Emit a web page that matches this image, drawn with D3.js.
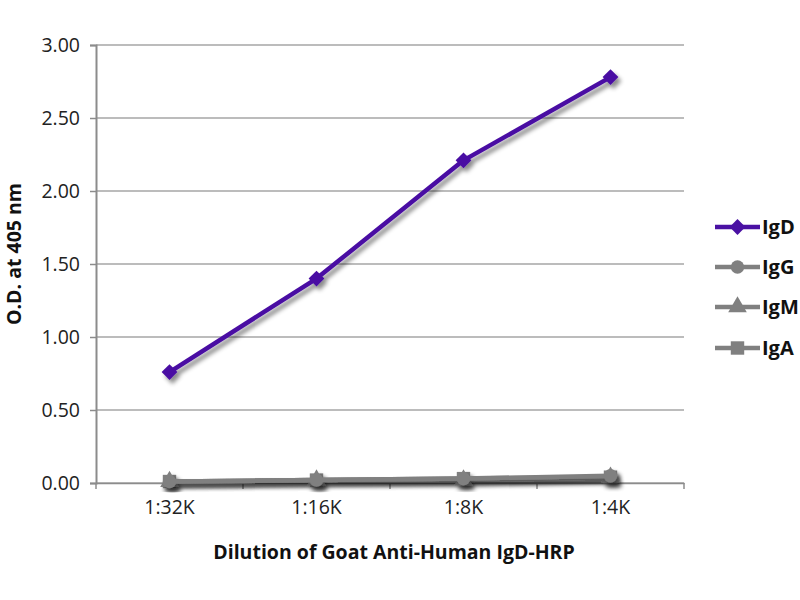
<!DOCTYPE html>
<html>
<head>
<meta charset="utf-8">
<script src="https://cdn.jsdelivr.net/npm/d3@7"></script>
<style>
  body { margin: 0; background: #fff; }
  svg { display: block; font-family: "Open Sans", sans-serif; }
</style>
</head>
<body>
<svg id="chart" width="800" height="600"></svg>
<script>
// data
var categories = ["1:32K", "1:16K", "1:8K", "1:4K"];
var seriesNames = ["IgD", "IgG", "IgM", "IgA"];
var igD = [0.76, 1.40, 2.21, 2.78];
var igG = [0.01, 0.02, 0.03, 0.05];
var igM = [0.01, 0.02, 0.02, 0.04];
var igA = [0.01, 0.02, 0.03, 0.04];
var yTicks = [0, 0.5, 1, 1.5, 2, 2.5, 3];

var colors = { IgD: "#4a11a3", IgG: "#808080", IgM: "#808080", IgA: "#808080" };
var symbols = { IgD: d3.symbolSquare, IgG: d3.symbolCircle, IgM: d3.symbolTriangle, IgA: d3.symbolSquare };
var sizes = { IgD: 125, IgG: 140, IgM: 150, IgA: 180 };

var series = [
  { name: "IgD", values: igD },
  { name: "IgG", values: igG },
  { name: "IgM", values: igM },
  { name: "IgA", values: igA }
];

var svg = d3.select("#chart");
var margin = { left: 96, right: 116, top: 45, bottom: 117 };
var W = 800 - margin.left - margin.right;
var H = 600 - margin.top - margin.bottom;

// drop shadow like the office chart
var defs = svg.append("defs");
var f = defs.append("filter").attr("id", "shadow")
  .attr("x", "-20%").attr("y", "-20%").attr("width", "140%").attr("height", "140%");
f.append("feDropShadow").attr("dx", 3).attr("dy", 4)
  .attr("stdDeviation", 2).attr("flood-color", "#000").attr("flood-opacity", 0.45);

var g = svg.append("g").attr("transform", "translate(" + margin.left + "," + margin.top + ")");

var x = d3.scaleBand().domain(categories).range([0, W]);
var y = d3.scaleLinear().domain([0, 3]).range([H, 0]);

// marker shape: diamond is a square turned 45deg
function markRot(name){ return name === "IgD" ? " rotate(45)" : ""; }

// gridlines
g.append("g").selectAll("line").data(yTicks).enter().append("line")
  .attr("x1", 0).attr("x2", W)
  .attr("y1", function(d){ return y(d); }).attr("y2", function(d){ return y(d); })
  .attr("stroke", "#a6a6a6").attr("stroke-width", 1.5);

// y axis
var yAxis = g.append("g")
  .call(d3.axisLeft(y).tickValues(yTicks).tickFormat(d3.format(".2f")).tickSize(6).tickPadding(10));
yAxis.select(".domain").attr("stroke", "#8c8c8c").attr("stroke-width", 2);
yAxis.selectAll(".tick line").attr("stroke", "#8c8c8c").attr("stroke-width", 1.5);
yAxis.selectAll(".tick text").attr("font-size", 19.5).attr("fill", "#222")
  .attr("font-family", "'Open Sans', sans-serif");

// x axis: ticks at band edges
var xAxis = g.append("g").attr("transform", "translate(0," + H + ")")
  .call(d3.axisBottom(x).tickSize(0).tickPadding(17));
xAxis.select(".domain").attr("stroke", "#8c8c8c").attr("stroke-width", 1.5);
xAxis.selectAll(".tick text").attr("font-size", 19.5).attr("fill", "#222")
  .attr("font-family", "'Open Sans', sans-serif");
var edges = categories.map(function(c){ return x(c); }).concat([W]);
xAxis.selectAll(".edge").data(edges).enter().append("line")
  .attr("class", "edge")
  .attr("x1", function(d){ return d; }).attr("x2", function(d){ return d; })
  .attr("y1", 0).attr("y2", 6)
  .attr("stroke", "#8c8c8c").attr("stroke-width", 1.5);

// series lines + markers (draw grays first, IgD on top)
var line = d3.line()
  .x(function(d, i){ return x(categories[i]) + x.bandwidth() / 2; })
  .y(function(d){ return y(d); });

var drawOrder = series.slice(1).reverse().concat([series[0]]);
var sg = g.selectAll(".series").data(drawOrder).enter().append("g")
  .attr("class", "series")
  .attr("filter", "url(#shadow)");

sg.append("path")
  .attr("d", function(d){ return line(d.values); })
  .attr("fill", "none")
  .attr("stroke", function(d){ return colors[d.name]; })
  .attr("stroke-width", 4.5)
  .attr("stroke-linejoin", "round");

sg.each(function(s){
  d3.select(this).selectAll("path.mark").data(s.values).enter().append("path")
    .attr("class", "mark")
    .attr("transform", function(d, i){
      return "translate(" + (x(categories[i]) + x.bandwidth() / 2) + "," + y(d) + ")" + markRot(s.name);
    })
    .attr("d", d3.symbol().type(symbols[s.name]).size(sizes[s.name]))
    .attr("fill", colors[s.name]);
});

// legend
var legendY = [227, 267, 307, 348];
var lg = svg.append("g").selectAll("g").data(seriesNames).enter().append("g")
  .attr("transform", function(d, i){ return "translate(715," + legendY[i] + ")"; });
lg.append("line").attr("x1", 0).attr("x2", 45).attr("y1", 0).attr("y2", 0)
  .attr("stroke", function(d){ return colors[d]; }).attr("stroke-width", 4.5);
lg.append("path").attr("transform", function(d){ return "translate(22.5,0)" + markRot(d); })
  .attr("d", function(d){ return d3.symbol().type(symbols[d]).size(sizes[d])(); })
  .attr("fill", function(d){ return colors[d]; });
lg.append("text").attr("x", 47).attr("y", 0).attr("dy", "0.36em")
  .attr("font-size", 20).attr("font-weight", "bold").attr("fill", "#111")
  .text(function(d){ return d; });

// axis titles
svg.append("text")
  .attr("x", margin.left + W / 2 + 4).attr("y", 559)
  .attr("text-anchor", "middle").attr("font-size", 19.5).attr("font-weight", "bold").attr("fill", "#111")
  .text("Dilution of Goat Anti-Human IgD-HRP");

svg.append("text")
  .attr("transform", "translate(21," + (margin.top + H / 2 - 10) + ") rotate(-90)")
  .attr("text-anchor", "middle").attr("font-size", 19.5).attr("font-weight", "bold").attr("fill", "#111")
  .text("O.D. at 405 nm");
</script>
</body>
</html>
